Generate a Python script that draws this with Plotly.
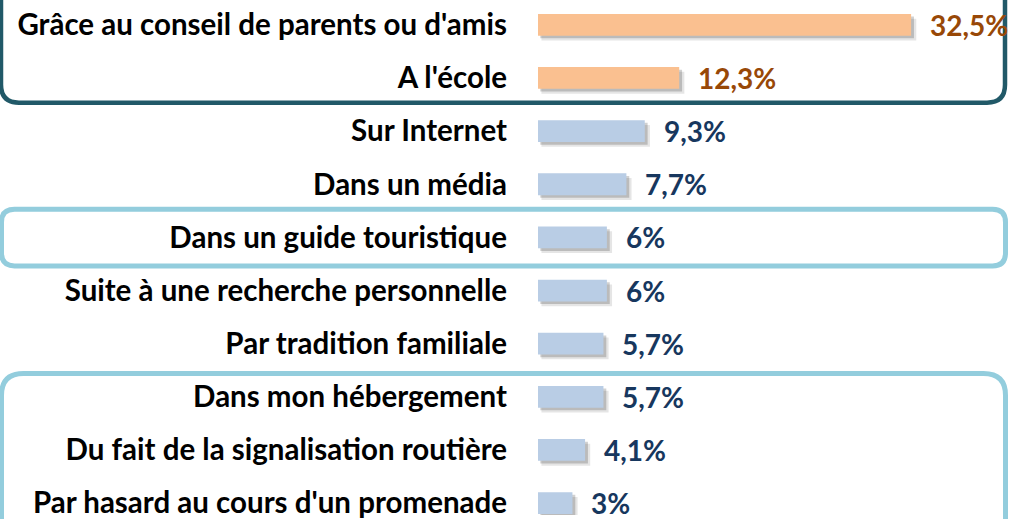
import plotly.graph_objects as go

categories = [
    "Grâce au conseil de parents ou d'amis",
    "A l'école",
    "Sur Internet",
    "Dans un média",
    "Dans un guide touristique",
    "Suite à une recherche personnelle",
    "Par tradition familiale",
    "Dans mon hébergement",
    "Du fait de la signalisation routière",
    "Par hasard au cours d'un promenade",
]
values = [32.5, 12.3, 9.3, 7.7, 6.0, 6.0, 5.7, 5.7, 4.1, 3.0]
highlight = [True, True, False, False, False, False, False, False, False, False]

W, H = 1009, 519
ML = 538
PW = W - ML

bar_colors = ["#FAC090" if h else "#B9CDE5" for h in highlight]
text_colors = ["#984807" if h else "#17375E" for h in highlight]
labels = [f"{v:g}".replace(".", ",") + "%" for v in values]

BW = 0.41
fig = go.Figure()
# soft shadows
fig.add_trace(go.Bar(x=[v + 0.15 for v in values], y=categories, base=0.3, orientation="h",
                     width=BW, offset=-BW / 2 + 0.09, marker=dict(color="rgba(0,0,0,0.10)", line_width=0),
                     hoverinfo="skip", showlegend=False))
fig.add_trace(go.Bar(x=[v + 0.05 for v in values], y=categories, base=0.2, orientation="h",
                     width=BW, offset=-BW / 2 + 0.05, marker=dict(color="rgba(0,0,0,0.18)", line_width=0),
                     hoverinfo="skip", showlegend=False))
fig.add_trace(go.Bar(x=values, y=categories, orientation="h", width=BW, offset=-BW / 2,
                     marker=dict(color=bar_colors, line_width=0), showlegend=False))

for c, v, t, col in zip(categories, values, labels, text_colors):
    fig.add_annotation(x=v, y=c, text=f"<b>{t}</b>", showarrow=False, xanchor="left",
                       xshift=17, font=dict(family="Lato", size=28, color=col))


def px2paper(px, py):
    return (px - ML) / PW, 1 - py / H


def rrect(x0, y0, x1, y1, r):
    pts = []
    def P(cmd, *xy):
        s = cmd
        for i in range(0, len(xy), 2):
            a, b = px2paper(xy[i], xy[i + 1])
            s += f" {a:.5f},{b:.5f}"
        pts.append(s)
    P("M", x0 + r, y0)
    P("L", x1 - r, y0)
    P("Q", x1, y0, x1, y0 + r)
    P("L", x1, y1 - r)
    P("Q", x1, y1, x1 - r, y1)
    P("L", x0 + r, y1)
    P("Q", x0, y1, x0, y1 - r)
    P("L", x0, y0 + r)
    P("Q", x0, y0, x0 + r, y0)
    return " ".join(pts) + " Z"


boxes = [
    (1, -40, 1005, 103.5, 18, "#215968", 4.5),
    (1.5, 211, 1005.5, 268, 13, "#93CDDD", 5),
    (1.5, 376.5, 1005.5, 600, 22, "#93CDDD", 5),
]
for x0, y0, x1, y1, r, col, lw in boxes:
    fig.add_shape(type="path", path=rrect(x0, y0, x1, y1, r), xref="paper", yref="paper",
                  line=dict(color=col, width=lw), fillcolor="rgba(0,0,0,0)", layer="above")

n = len(categories)
top_px, bot_px = 25, 507
span = H * (n - 1) / (bot_px - top_px)
r0 = -top_px * span / H
r1 = r0 + span

fig.update_layout(
    width=W, height=H,
    margin=dict(l=ML, r=0, t=0, b=0),
    paper_bgcolor="white", plot_bgcolor="white",
    barmode="overlay",
    xaxis=dict(range=[0, PW / 11.48], visible=False, fixedrange=True),
    yaxis=dict(type="category", categoryorder="array", categoryarray=categories,
               range=[r1, r0], showgrid=False, zeroline=False, showline=False, ticks="",
               ticklabelstandoff=30,
               tickfont=dict(family="Lato", size=29.5, color="black", weight="bold")),
)

fig.write_html("out.html", config={"displayModeBar": False},
               post_script="document.body.style.margin='0';document.body.style.overflow='hidden';")
